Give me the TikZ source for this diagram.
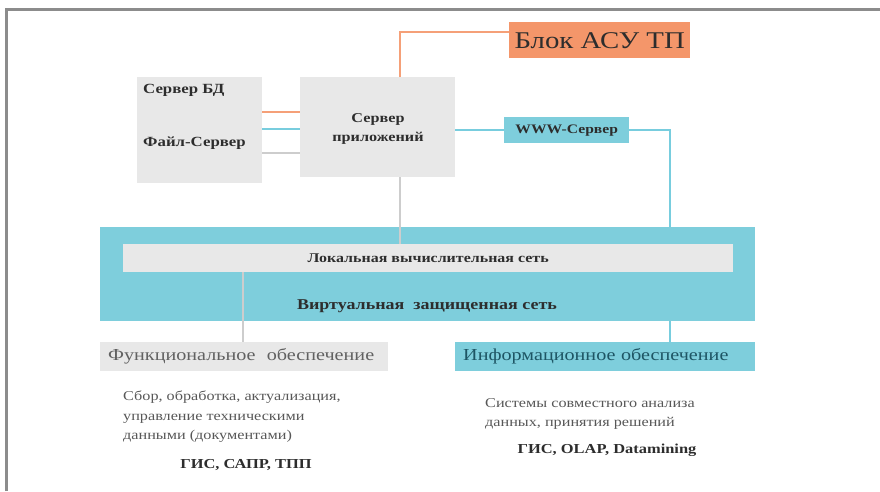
\documentclass[tikz,border=0pt]{standalone}
\usepackage{fontspec}
\setmainfont{Liberation Serif}[FakeStretch=1.2]
\usetikzlibrary{positioning, calc}
\definecolor{framegray}{RGB}{140,140,140}
\definecolor{boxgray}{RGB}{232,232,232}
\definecolor{netblue}{RGB}{126,206,220}
\definecolor{asuorange}{RGB}{244,150,106}
\definecolor{lineorange}{RGB}{245,160,120}
\definecolor{lineblue}{RGB}{120,205,222}
\definecolor{linegray}{RGB}{205,205,205}
\definecolor{txtdark}{RGB}{45,45,45}
\definecolor{txtteal}{RGB}{30,85,100}
\tikzset{
  srv/.style    = {fill=boxgray, anchor=north west, inner sep=0pt},
  lbl/.style    = {font=\fontsize{14}{16}\selectfont\bfseries, text=txtdark, anchor=west, inner sep=0pt},
  bluebox/.style= {fill=netblue, anchor=north west, inner sep=0pt},
  olink/.style  = {draw=lineorange, line width=2.5pt},
  blink/.style  = {draw=lineblue, line width=2.5pt},
  glink/.style  = {draw=linegray, line width=2pt},
  note/.style   = {font=\fontsize{13.5}{19.5}\selectfont, text=txtdark!80, align=left,
                   anchor=north west, inner sep=0pt},
  sys/.style    = {font=\fontsize{13.7}{16}\selectfont\bfseries, text=txtdark},
}
\begin{document}
\begin{tikzpicture}[x=1pt, y=-1pt]
  \useasboundingbox (0,0) rectangle (880,491);
  % outer frame
  \draw[framegray, line width=3pt] (6,491) -- (6,9) -- (880,9);

  % servers
  \node[srv, minimum width=125, minimum height=106] (db) at (137,77) {};
  \node[lbl] (dbname) at (143,90) {Сервер БД};
  \node[lbl] (fsname) at (143,143) {Файл-Сервер};
  \node[srv, minimum width=155, minimum height=100] (app) at (300,77) {};
  \node[align=center, font=\fontsize{13.5}{19}\selectfont\bfseries, text=txtdark]
        (appname) at (378,129) {Сервер\\приложений};
  \node[fill=asuorange, anchor=north west, minimum width=181, minimum height=36,
        inner sep=0pt, font=\fontsize{24}{24}\selectfont, text=txtdark] (asu) at (509,22)
        {Блок АСУ ТП};
  \node[bluebox, minimum width=125, minimum height=26,
        font=\fontsize{13}{15}\selectfont\bfseries, text=txtdark] (www) at (504,117)
        {WWW-Сервер};

  % networks
  \node[bluebox, minimum width=655, minimum height=94] (vnet) at (100,227) {};
  \node[srv, minimum width=610, minimum height=28,
        font=\fontsize{13.3}{15}\selectfont\bfseries, text=txtdark] (lan) at (123,244)
        {Локальная вычислительная сеть};
  \node[font=\fontsize{15}{17}\selectfont\bfseries, text=txtdark] (vname) at (427,306)
        {Виртуальная\ \ защищенная сеть};

  % support blocks
  \node[srv, minimum width=288, minimum height=29, text width=272, inner xsep=8pt,
        font=\fontsize{16.8}{18}\selectfont, text=txtdark!75] (func) at (100,342)
        {Функциональное\ \ обеспечение};
  \node[bluebox, minimum width=300, minimum height=29, text width=284, inner xsep=8pt,
        font=\fontsize{16.8}{18}\selectfont, text=txtteal] (info) at (455,342)
        {Информационное обеспечение};
  \node[note] (fnote) at (123,391) {Сбор, обработка, актуализация,\\управление техническими\\данными (документами)};
  \node[note] (inote) at (485,398) {Системы совместного анализа\\данных, принятия решений};
  \node[sys] (fsys) at (246,465) {ГИС, САПР, ТПП};
  \node[sys] (isys) at (607,450) {ГИС, OLAP, Datamining};

  % taps for the connectors
  \coordinate (apptap) at (400,0);
  \coordinate (wwwtap) at (670,227);
  \coordinate (functap) at (243,0);

  \draw[olink] (db.east |- 0,112) -- (app.west |- 0,112);
  \draw[blink] (db.east |- 0,129) -- (app.west |- 0,129);
  \draw[glink] (db.east |- 0,153) -- (app.west |- 0,153);
  \draw[olink] (app.north -| apptap) |- ([yshift=8pt]asu.west);
  \draw[blink] (app.east |- www.west) -- (www.west);
  \draw[blink] (www.east) -| (wwwtap);
  \draw[glink] (app.south -| apptap) -- (lan.north -| apptap);
  \draw[glink] (lan.south -| functap) -- (func.north -| functap);
  \draw[blink] (vnet.south -| wwwtap) -- (info.north -| wwwtap);
\end{tikzpicture}
\end{document}
